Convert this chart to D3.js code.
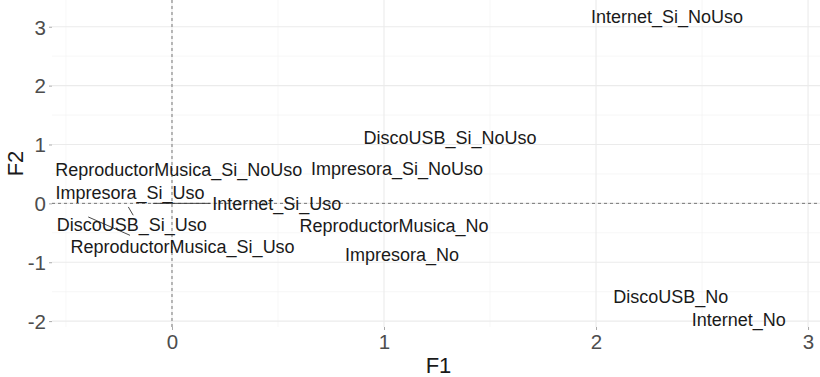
<!DOCTYPE html>
<html>
<head>
<meta charset="utf-8">
<script src="https://cdn.jsdelivr.net/npm/d3@7"></script>
<style>
  html, body { margin: 0; padding: 0; background: #fff; }
  svg { display: block; font-family: "Liberation Sans", Arial, sans-serif; }
</style>
</head>
<body>
<svg id="chart" width="820" height="377"></svg>
<script>
// ---- data (F1, F2 coordinates of each label) ----
const labels = [
  "Internet_Si_NoUso", "DiscoUSB_Si_NoUso", "ReproductorMusica_Si_NoUso", "Impresora_Si_NoUso",
  "Impresora_Si_Uso", "Internet_Si_Uso", "DiscoUSB_Si_Uso", "ReproductorMusica_No",
  "ReproductorMusica_Si_Uso", "Impresora_No", "DiscoUSB_No", "Internet_No"
];
const labelF1 = [2.335, 1.311, 0.032, 1.061, -0.198, 0.494, -0.190, 1.047, 0.050, 1.085, 2.353, 2.673];
const labelF2 = [3.170, 1.110, 0.573, 0.597, 0.185, 0.000, -0.355, -0.376, -0.730, -0.862, -1.588, -1.968];

// repel segments: from the point to where the segment meets the label
const segLabels = ["Internet_Si_Uso", "DiscoUSB_Si_Uso", "ReproductorMusica_Si_Uso"];
const segPointF1 = [-0.090, -0.206, -0.395];
const segPointF2 = [0.000, -0.061, -0.231];
const segEndF1 = [0.179, -0.183, -0.198];
const segEndF2 = [0.000, -0.202, -0.543];

const xTicks = [0, 1, 2, 3];
const yTicks = [-2, -1, 0, 1, 2, 3];
const xMinor = [-0.5, 0.5, 1.5, 2.5];
const yMinor = [-1.5, -0.5, 0.5, 1.5, 2.5];
const xDomain = [-0.566, 3.08];
const yDomain = [-2.10, 3.454];

// ---- layout ----
const panel = { left: 52, right: 825, top: 0, bottom: 327 };
const svg = d3.select("#chart");
const x = d3.scaleLinear().domain(xDomain).range([panel.left, panel.right]);
const y = d3.scaleLinear().domain(yDomain).range([panel.bottom, panel.top]);
const fmt = d => String(d);  // ASCII hyphen-minus like ggplot

const grid = svg.append("g");
// minor grid
grid.selectAll(".vminor").data(xMinor).join("line")
  .attr("x1", d => x(d)).attr("x2", d => x(d))
  .attr("y1", panel.top).attr("y2", panel.bottom)
  .attr("stroke", "#f3f3f3").attr("stroke-width", 0.7);
grid.selectAll(".hminor").data(yMinor).join("line")
  .attr("x1", panel.left).attr("x2", panel.right)
  .attr("y1", d => y(d)).attr("y2", d => y(d))
  .attr("stroke", "#f3f3f3").attr("stroke-width", 0.7);
// major grid
grid.selectAll(".vmajor").data(xTicks).join("line")
  .attr("x1", d => x(d)).attr("x2", d => x(d))
  .attr("y1", panel.top).attr("y2", panel.bottom)
  .attr("stroke", "#ebebeb").attr("stroke-width", 1.1);
grid.selectAll(".hmajor").data(yTicks).join("line")
  .attr("x1", panel.left).attr("x2", panel.right)
  .attr("y1", d => y(d)).attr("y2", d => y(d))
  .attr("stroke", "#ebebeb").attr("stroke-width", 1.1);

// reference dashed lines
svg.append("line")
  .attr("x1", x(0)).attr("x2", x(0)).attr("y1", panel.top).attr("y2", panel.bottom)
  .attr("stroke", "#777").attr("stroke-width", 1).attr("stroke-dasharray", "3,3");
svg.append("line")
  .attr("x1", panel.left).attr("x2", panel.right).attr("y1", y(0)).attr("y2", y(0))
  .attr("stroke", "#777").attr("stroke-width", 1).attr("stroke-dasharray", "3,3");

// axes (d3 axes, styled as ggplot minimal with small ticks)
const xAxis = svg.append("g")
  .attr("transform", `translate(0,${panel.bottom})`)
  .call(d3.axisBottom(x).tickValues(xTicks).tickFormat(fmt).tickSize(3).tickPadding(5));
const yAxis = svg.append("g")
  .attr("transform", `translate(${panel.left},0)`)
  .call(d3.axisLeft(y).tickValues(yTicks).tickFormat(fmt).tickSize(3).tickPadding(3));
[xAxis, yAxis].forEach(a => {
  a.select(".domain").remove();
  a.selectAll(".tick line").attr("stroke", "#aaa").attr("stroke-width", 1);
  a.selectAll(".tick text")
    .attr("fill", "#4d4d4d")
    .style("font-family", '"Liberation Sans", Arial, sans-serif')
    .style("font-size", "20.5px");
});
xAxis.selectAll(".tick text").attr("dy", "0.71em").attr("y", 7);
yAxis.selectAll(".tick text").attr("dy", "0.36em");

// axis titles
svg.append("text")
  .attr("x", (panel.left + panel.right) / 2).attr("y", 372.7)
  .attr("text-anchor", "middle").attr("fill", "#1a1a1a")
  .style("font-size", "22px").text("F1");
svg.append("text")
  .attr("transform", `translate(22.5,${(panel.top + panel.bottom) / 2}) rotate(-90)`)
  .attr("text-anchor", "middle").attr("fill", "#1a1a1a")
  .style("font-size", "22px").text("F2");

// segments
svg.append("g").selectAll("line").data(segLabels).join("line")
  .attr("x1", (d, i) => x(segPointF1[i])).attr("y1", (d, i) => y(segPointF2[i]))
  .attr("x2", (d, i) => x(segEndF1[i])).attr("y2", (d, i) => y(segEndF2[i]))
  .attr("stroke", "#333").attr("stroke-width", 0.9);

// labels
svg.append("g").selectAll("text").data(labels).join("text")
  .attr("x", (d, i) => x(labelF1[i]))
  .attr("y", (d, i) => y(labelF2[i]))
  .attr("dy", "0.36em")
  .attr("text-anchor", "middle")
  .attr("fill", "#1a1a1a")
  .style("font-size", "18px")
  .text(d => d);
</script>
</body>
</html>
